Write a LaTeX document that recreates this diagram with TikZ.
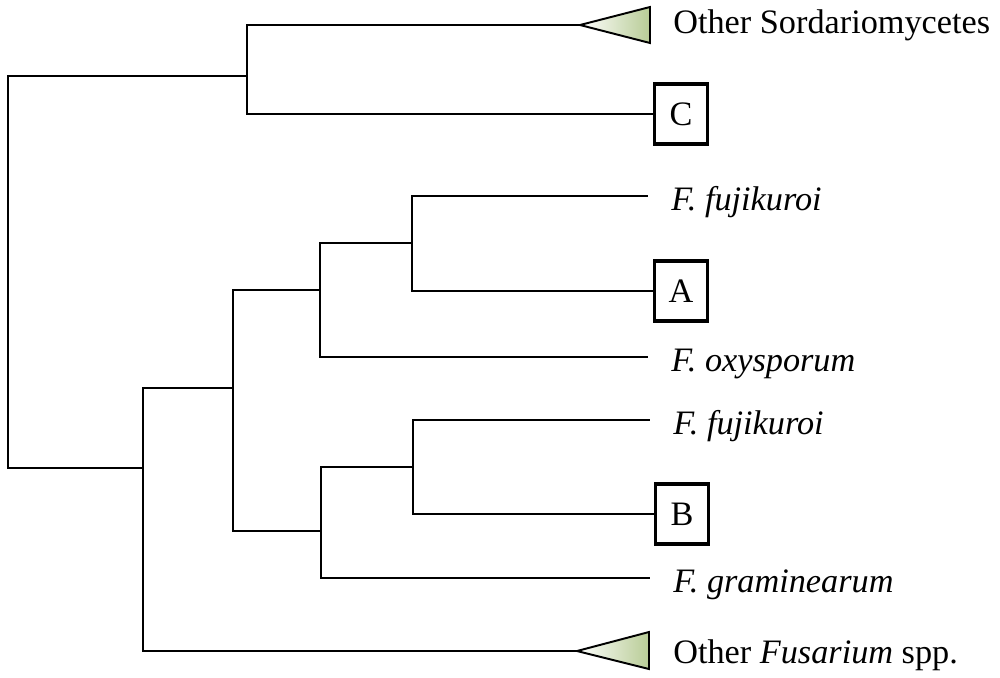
\documentclass[tikz,border=0pt]{standalone}
\usepackage{fontspec}
\setmainfont{Liberation Serif}
\usepackage{tikz}

\definecolor{cladegreen}{RGB}{184,204,150}

\tikzset{
	branch/.style={draw=black, line width=1.1pt, to path={|- (\tikztotarget)}},
	taxon/.style={anchor=west, inner xsep=0.46cm, inner ysep=0pt, text height=0.56cm, text depth=0pt},
	sample/.style={shape=rectangle, draw=black, line width=2.2pt, minimum width=1.06cm, minimum height=1.2cm, inner sep=0pt},
	clade/.style={draw=black, line width=1.1pt, left color=white, right color=cladegreen}
}

\begin{document}
\begin{tikzpicture}[x=0.02cm, y=-0.02cm, font=\fontsize{19.5}{23}\selectfont]
	\useasboundingbox (0,0) rectangle (1000,677);

	\coordinate (root) at (8, 273);
	\coordinate (sord) at (247, 76);
	\coordinate (fus) at (143, 468);
	\coordinate (g1) at (233, 388);
	\coordinate (g2) at (320, 290);
	\coordinate (g3) at (321, 531);
	\coordinate (g4) at (412, 243);
	\coordinate (g5) at (413, 467);
	\coordinate (sordtip) at (580, 25);
	\coordinate (fustip) at (577, 651);

	\node[sample] (c) at (681, 114) {C};
	\node[sample] (a) at (681, 291) {A};
	\node[sample] (b) at (682, 514) {B};

	\node[taxon] (fuji1) at (648, 196) {\textit{F. fujikuroi}};
	\node[taxon] (oxy) at (648, 357) {\textit{F. oxysporum}};
	\node[taxon] (fuji2) at (650, 420) {\textit{F. fujikuroi}};
	\node[taxon] (gram) at (650, 578) {\textit{F. graminearum}};
	\node[taxon] (sordlabel) at (650, 19) {Other Sordariomycetes};
	\node[taxon] (fuslabel) at (650, 649) {Other \textit{Fusarium} spp.};

	% collapsed clades
	\filldraw[clade] (sordtip) -- ++(70, -18) -- ++(0, 36) -- cycle;
	\filldraw[clade] (fustip) -- ++(72, -19) -- ++(0, 37) -- cycle;

	\path (root) edge[branch] (sord);
	\path (root) edge[branch] (fus);
	\path (sord) edge[branch] (sordtip);
	\path (sord) edge[branch] (c);
	\path (fus) edge[branch] (g1);
	\path (fus) edge[branch] (fustip);
	\path (g1) edge[branch] (g2);
	\path (g1) edge[branch] (g3);
	\path (g2) edge[branch] (g4);
	\path (g2) edge[branch] (oxy);
	\path (g4) edge[branch] (fuji1);
	\path (g4) edge[branch] (a);
	\path (g3) edge[branch] (g5);
	\path (g3) edge[branch] (gram);
	\path (g5) edge[branch] (fuji2);
	\path (g5) edge[branch] (b);

\end{tikzpicture}
\end{document}
